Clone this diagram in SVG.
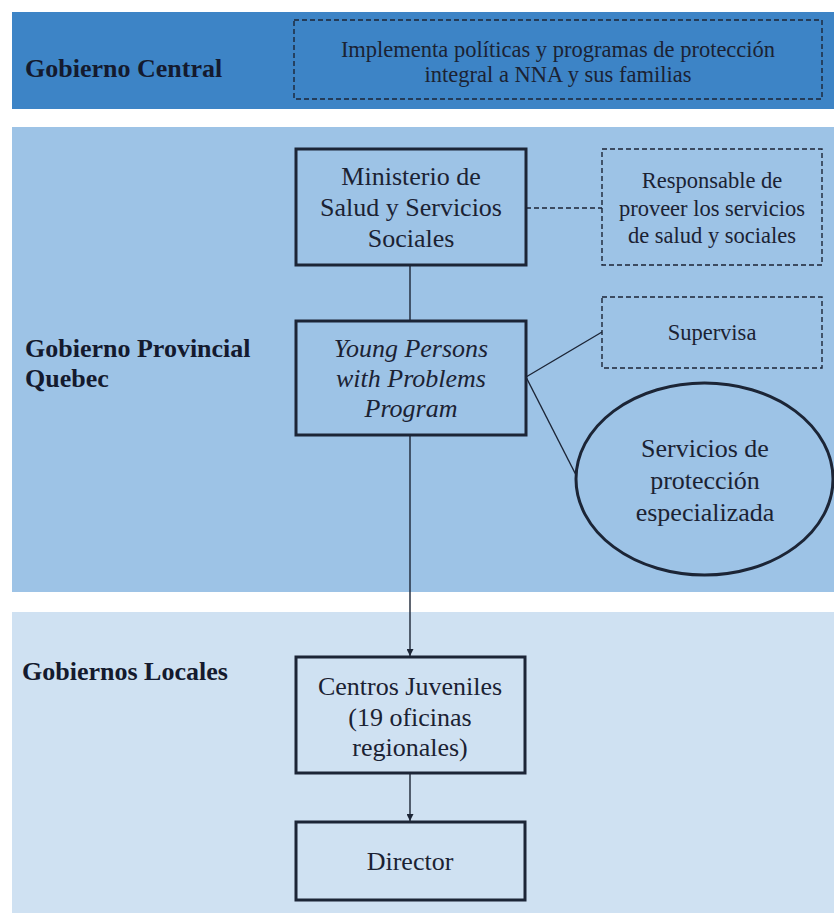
<svg xmlns="http://www.w3.org/2000/svg" width="834" height="913" viewBox="0 0 834 913" font-family="'Liberation Serif', 'Times New Roman', 'DejaVu Serif', serif">
<defs>
<style>
text{font-family:'Liberation Serif','Times New Roman','DejaVu Serif',serif}
.band-title{font-weight:bold;font-size:26px;fill:#141a2e}
.t{font-size:26px;fill:#1b2233;text-anchor:middle}
.ts{font-size:22.5px;fill:#1b2233;text-anchor:middle}
.it{font-style:italic}
.box{fill:none;stroke:#1c2536;stroke-width:3}
.dbox{fill:none;stroke:#1c2536;stroke-width:1.4;stroke-dasharray:5 3}
.ln{fill:none;stroke:#1c2536;stroke-width:1.4}
.dln{fill:none;stroke:#1c2536;stroke-width:1.4;stroke-dasharray:5 3}
</style>
<marker id="arr" viewBox="0 0 10 10" refX="10" refY="5" markerWidth="7" markerHeight="7" markerUnits="userSpaceOnUse" orient="auto">
<path d="M0,0 L10,5 L0,10 z" fill="#1c2536"/>
</marker>
</defs>
<rect width="834" height="913" fill="#ffffff"/>
<g id="bands">
<rect x="12" y="12" width="822" height="97" fill="#3d84c6"/>
<rect x="12" y="127" width="822" height="465" fill="#9dc3e6"/>
<rect x="12" y="612" width="822" height="301" fill="#cfe1f2"/>
<text class="band-title" x="25" y="77">Gobierno Central</text>
<text class="band-title" x="25" y="357">Gobierno Provincial</text>
<text class="band-title" x="25" y="387">Quebec</text>
<text class="band-title" x="22" y="680">Gobiernos Locales</text>
</g>
<g id="central-note">
<rect class="dbox" x="294" y="20" width="528" height="79"/>
<text class="ts" x="558" y="57">Implementa políticas y programas de protección</text>
<text class="ts" x="558" y="82">integral a NNA y sus familias</text>
</g>
<g id="connectors">
<line class="ln" x1="410" y1="265" x2="410" y2="321"/>
<line class="dln" x1="526" y1="208" x2="602" y2="208"/>
<line class="ln" x1="526" y1="377" x2="602" y2="332"/>
<line class="ln" x1="526" y1="377" x2="576" y2="475"/>
<line class="ln" x1="410" y1="435" x2="410" y2="656" marker-end="url(#arr)"/>
<line class="ln" x1="410" y1="773" x2="410" y2="821" marker-end="url(#arr)"/>
</g>
<g id="ministerio">
<rect class="box" x="296" y="149" width="230" height="116"/>
<text class="t" x="411" y="185">Ministerio de</text>
<text class="t" x="411" y="216">Salud y Servicios</text>
<text class="t" x="411" y="247">Sociales</text>
</g>
<g id="responsable">
<rect class="dbox" x="602" y="149" width="220" height="116"/>
<text class="ts" x="712" y="188">Responsable de</text>
<text class="ts" x="712" y="216">proveer los servicios</text>
<text class="ts" x="712" y="243">de salud y sociales</text>
</g>
<g id="young">
<rect class="box" x="296" y="321" width="230" height="114"/>
<text class="t it" x="411" y="357">Young Persons</text>
<text class="t it" x="411" y="387">with Problems</text>
<text class="t it" x="411" y="417">Program</text>
</g>
<g id="supervisa">
<rect class="dbox" x="602" y="297" width="220" height="71"/>
<text class="ts" x="712" y="340">Supervisa</text>
</g>
<g id="servicios">
<ellipse cx="704.5" cy="479" rx="128.5" ry="96" fill="none" stroke="#1c2536" stroke-width="3"/>
<text class="t" x="705" y="457">Servicios de</text>
<text class="t" x="705" y="489">protección</text>
<text class="t" x="705" y="521">especializada</text>
</g>
<g id="centros">
<rect class="box" x="296" y="657" width="229" height="116"/>
<text class="t" x="410" y="695">Centros Juveniles</text>
<text class="t" x="410" y="726">(19 oficinas</text>
<text class="t" x="410" y="756">regionales)</text>
</g>
<g id="director">
<rect class="box" x="296" y="822" width="229" height="78"/>
<text class="t" x="410" y="870">Director</text>
</g>
</svg>
